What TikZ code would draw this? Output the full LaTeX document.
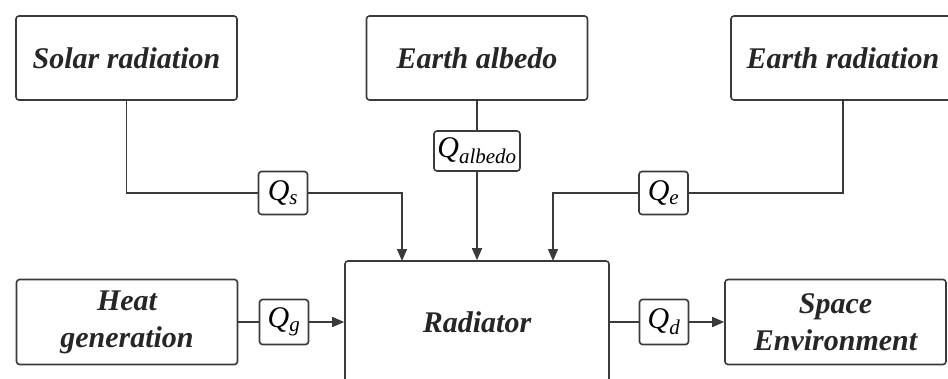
\documentclass[tikz,border=0pt]{standalone}
\usepackage{fontspec}
\setmainfont{DejaVu Serif}
\newfontfamily\blockfont{Liberation Serif}
\usetikzlibrary{arrows.meta}
\definecolor{linegray}{HTML}{3A3A3A}
\definecolor{textgray}{HTML}{262626}
\newcommand\heatq[1]{\textit{Q}\textsubscript{\textit{#1}}}
\begin{document}
\begin{tikzpicture}[x=1pt, y=-1pt,
  block/.style={draw=linegray, text=textgray, line width=1.6pt, rounded corners=3pt, inner sep=0pt, align=center,
    minimum width=221pt, minimum height=84pt, font=\blockfont\fontsize{30}{37}\selectfont\bfseries\itshape},
  fluxbox/.style={draw=linegray, text=black, line width=1.6pt, rounded corners=3pt, inner sep=0pt,
    minimum width=49pt, minimum height=43pt, font=\blockfont\fontsize{30}{30}\selectfont},
  flow/.style={draw=linegray, line width=1.6pt},
  arr/.style={flow, -{Triangle[length=12pt,width=10pt]}}]
\useasboundingbox (0,0) rectangle (948,378);
\clip (0,0) rectangle (948,378);
% source blocks
\node[block] (solar) at (126.5,58) {Solar radiation};
\node[block] (albedo) at (477,58) {Earth albedo};
\node[block, minimum width=224pt] (earthrad) at (843,58) {Earth radiation};
\node[block, minimum height=85pt] (heat) at (127,322) {Heat\\generation};
\node[block, minimum width=264pt, minimum height=122pt] (rad) at (477,322) {Radiator};
\node[block, minimum height=85pt] (space) at (835.5,322) {Space\\Environment};
% heat flows
\node[fluxbox] (qs) at (283,193) {\heatq{s}};
\node[fluxbox, minimum width=86pt, minimum height=40pt] (qalb) at (477,151) {\heatq{albedo}};
\node[fluxbox] (qe) at (663.5,193) {\heatq{e}};
\node[fluxbox, minimum height=45pt] (qg) at (284,322) {\heatq{g}};
\node[fluxbox, minimum height=45pt] (qd) at (664,322) {\heatq{d}};
\coordinate (sin) at (402,261);
\coordinate (ein) at (553,261);
\draw[flow] (solar) |- (qs);
\draw[arr] (qs) -| (sin);
\draw[flow] (albedo) -- (qalb);
\draw[arr] (qalb) -- (rad);
\draw[flow] (earthrad) |- (qe);
\draw[arr] (qe) -| (ein);
\draw[flow] (heat) -- (qg);
\draw[arr] (qg) -- (rad);
\draw[flow] (rad) -- (qd);
\draw[arr] (qd) -- (space);
\end{tikzpicture}
\end{document}
